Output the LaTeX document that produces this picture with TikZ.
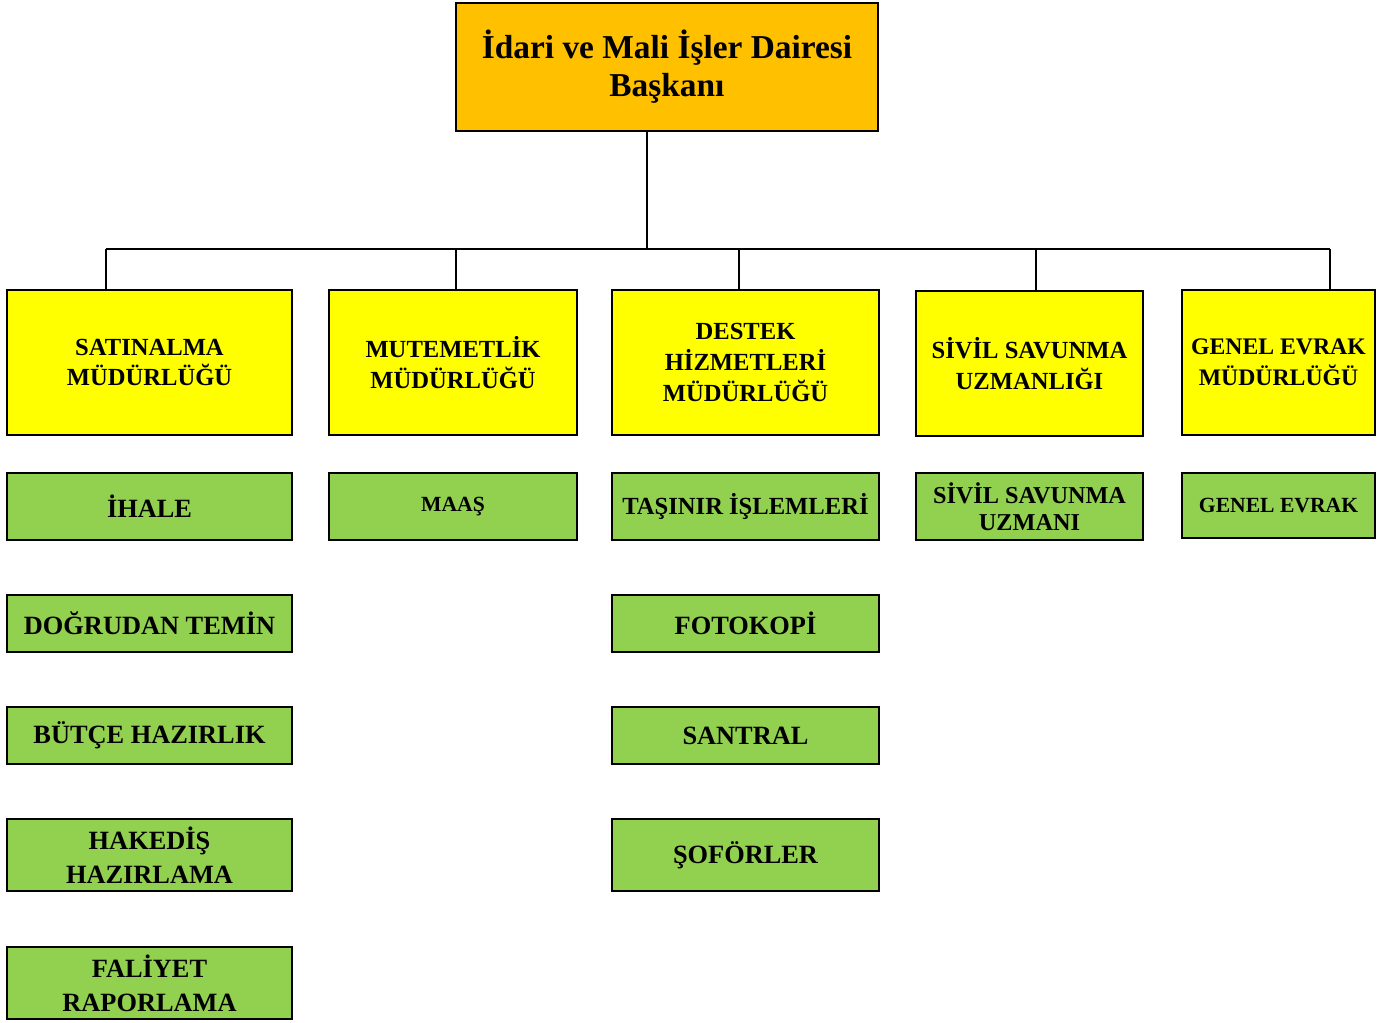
\documentclass[tikz,border=0pt]{standalone}
\usepackage{fontspec}
\setmainfont{Liberation Serif}
\begin{document}
\begin{tikzpicture}[
    chief/.style    = {shape = rectangle, draw = black, line width = 1.3pt, fill = orangebox,
                       align = center, font = \bfseries\fontsize{19}{21.5}\selectfont,
                       minimum height = 2.56cm, minimum width = 8.44cm},
    unit/.style     = {shape = rectangle, draw = black, line width = 1.3pt, fill = yellowbox,
                       align = center, font = \bfseries\fontsize{14}{17.5}\selectfont,
                       minimum height = 2.9cm, inner xsep = 1pt},
    task/.style     = {shape = rectangle, draw = black, line width = 1.3pt, fill = greenbox,
                       align = center, font = \bfseries\fontsize{15}{19.5}\selectfont,
                       inner xsep = 1pt},
    smalltask/.style= {task, font = \bfseries\fontsize{12.3}{15}\selectfont},
    link/.style     = {line width = 1.1pt}
  ]
        \definecolor{orangebox}{HTML}{FFC000}
        \definecolor{yellowbox}{HTML}{FFFF00}
        \definecolor{greenbox}{HTML}{92D050}
        \useasboundingbox (0, 0) rectangle (27.9, -20.46);

        \node[chief] at (13.34, -1.34) (head) {İdari ve Mali İşler Dairesi\\Başkanı};

        % ------------------------------------------------------------------------
        % Units
        \node[unit, minimum width = 5.70cm] at ( 2.99, -7.25) (sat) {SATINALMA\\MÜDÜRLÜĞÜ};
        \node[unit, minimum width = 4.96cm] at ( 9.06, -7.25) (mut) {MUTEMETLİK\\MÜDÜRLÜĞÜ};
        \node[unit, minimum width = 5.34cm] at (14.91, -7.25) (des) {DESTEK\\HİZMETLERİ\\MÜDÜRLÜĞÜ};
        \node[unit, minimum width = 4.54cm] at (20.59, -7.27) (siv) {SİVİL SAVUNMA\\UZMANLIĞI};
        \node[unit, minimum width = 3.86cm, font = \bfseries\fontsize{13.5}{17.5}\selectfont]
          at (25.57, -7.25) (gen) {GENEL EVRAK\\MÜDÜRLÜĞÜ};

        \coordinate (bus)  at (12.94, -4.98);
        \coordinate (dsat) at ( 2.12, -4.98);
        \coordinate (dmut) at ( 9.12, -4.98);
        \coordinate (ddes) at (14.78, -4.98);
        \coordinate (dsiv) at (20.72, -4.98);
        \coordinate (dgen) at (26.60, -4.98);

        \draw[link]
          (bus |- head.south) -- (bus)
          (dsat) -- (dgen)
          (dsat) -- (dsat |- sat.north)
          (dmut) -- (dmut |- mut.north)
          (ddes) -- (ddes |- des.north)
          (dsiv) -- (dsiv |- siv.north)
          (dgen) -- (dgen |- gen.north)
        ;

        % ------------------------------------------------------------------------
        % Tasks
        \node[task, minimum width = 5.70cm, minimum height = 1.34cm] at ( 2.99, -10.13) (ihale) {İHALE};
        \node[task, minimum width = 5.70cm, minimum height = 1.14cm] at ( 2.99, -12.47) (dogr) {DOĞRUDAN TEMİN};
        \node[task, minimum width = 5.70cm, minimum height = 1.14cm] at ( 2.99, -14.71) (butce) {BÜTÇE HAZIRLIK};
        \node[task, minimum width = 5.70cm, minimum height = 1.44cm] at ( 2.99, -17.10) (hakedis) {HAKEDİŞ\\HAZIRLAMA};
        \node[task, minimum width = 5.70cm, minimum height = 1.44cm] at ( 2.99, -19.66) (faliyet) {FALİYET\\RAPORLAMA};

        \node[smalltask, minimum width = 4.96cm, minimum height = 1.34cm] at ( 9.06, -10.13) (maas) {MAAŞ};

        \node[task, minimum width = 5.34cm, minimum height = 1.34cm, font = \bfseries\fontsize{14}{17}\selectfont]
          at (14.91, -10.13) (tasinir) {TAŞINIR İŞLEMLERİ};
        \node[task, minimum width = 5.34cm, minimum height = 1.14cm] at (14.91, -12.47) (foto) {FOTOKOPİ};
        \node[task, minimum width = 5.34cm, minimum height = 1.14cm] at (14.91, -14.71) (santral) {SANTRAL};
        \node[task, minimum width = 5.34cm, minimum height = 1.44cm] at (14.91, -17.10) (sofor) {ŞOFÖRLER};

        \node[task, minimum width = 4.54cm, minimum height = 1.34cm, inner sep = 1pt,
              font = \bfseries\fontsize{13.8}{15.5}\selectfont] at (20.59, -10.13) (uzman) {SİVİL SAVUNMA\\UZMANI};

        \node[smalltask, minimum width = 3.86cm, minimum height = 1.30cm] at (25.57, -10.11) (evrak) {GENEL EVRAK};
      \end{tikzpicture}
\end{document}
